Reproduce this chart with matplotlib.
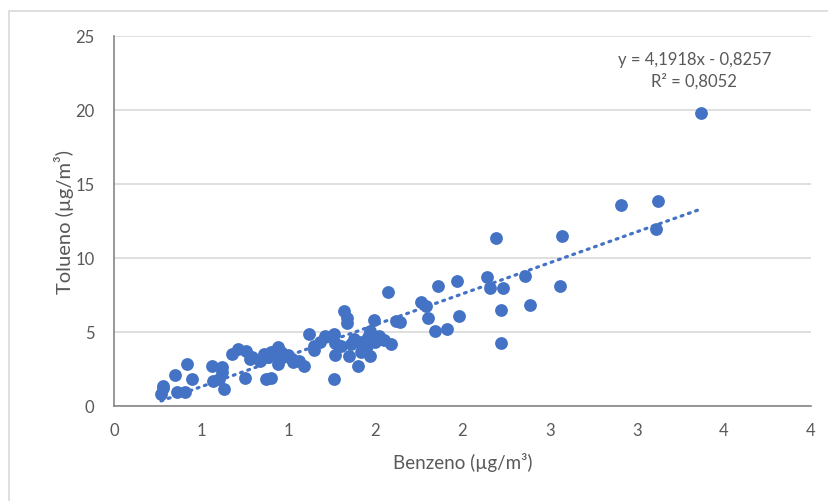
import numpy as np
import matplotlib
matplotlib.use('Agg')
from matplotlib import pyplot as plt
from matplotlib.patches import Rectangle

# Benzeno vs Tolueno (µg/m3)
benzeno = [0.27, 0.28, 0.28, 0.35, 0.36, 0.41, 0.42, 0.45,
           0.56, 0.62, 0.57, 0.60, 0.63, 0.62,
           0.68, 0.71, 0.76, 0.78, 0.75, 0.79,
           0.86, 0.90, 0.94, 0.94, 0.87, 0.90, 1.02, 1.03, 1.09, 0.84, 0.92,
           0.97, 1.06, 0.88, 0.96, 1.00,
           1.12, 1.15, 1.15, 1.21, 1.26, 1.27, 1.27, 1.35, 1.40, 1.26, 1.36,
           1.41, 1.32, 1.34, 1.34, 1.30, 1.18,
           1.47, 1.46, 1.45, 1.47, 1.55, 1.59, 1.49, 1.62, 1.57, 1.50, 1.43,
           1.64, 1.52, 1.42, 1.38,
           1.76, 1.79, 1.80, 1.98, 1.84, 1.91, 1.86, 1.97,
           2.14, 2.16, 2.23, 2.19, 2.36, 2.56, 2.57, 2.22, 2.39, 2.22,
           2.91, 3.12, 3.11, 3.37]
tolueno = [0.78, 1.16, 1.35, 2.08, 0.89, 0.94, 2.81, 1.79,
           2.69, 2.58, 1.68, 1.79, 1.12, 2.25,
           3.48, 3.82, 3.71, 3.15, 1.84, 3.26,
           3.48, 3.60, 3.98, 2.81, 1.79, 1.86, 3.15, 2.92, 2.69, 3.00, 3.40,
           3.26, 2.99, 3.30, 3.60, 3.40,
           4.84, 4.05, 3.76, 4.68, 4.84, 4.21, 3.42, 3.33, 2.69, 1.79, 4.16,
           4.28, 6.37, 5.90, 5.58, 4.00, 4.30,
           5.06, 4.61, 4.05, 3.37, 4.43, 4.16, 5.80, 5.70, 7.66, 4.30, 3.90,
           5.63, 4.70, 3.60, 4.50,
           7.02, 6.71, 5.95, 6.08, 5.02, 5.18, 8.11, 8.44,
           8.67, 7.93, 7.95, 11.31, 8.74, 8.06, 11.47, 6.46, 6.80, 4.24,
           13.56, 13.82, 11.94, 19.79]

slope, intercept = 4.1918, -0.8257
r2 = 0.8052

x_ticks = [0, 0.5, 1, 1.5, 2, 2.5, 3, 3.5, 4]
x_tick_labels = ['0', '1', '1', '2', '2', '3', '3', '4', '4']
y_ticks = [0, 5, 10, 15, 20, 25]

blue = '#4472C4'
grey_txt = '#595959'
plt.rcParams['font.family'] = ['Lato', 'DejaVu Sans']

fig = plt.figure(figsize=(8.29, 5.02), dpi=100)
ax = fig.add_axes([114 / 829, 1 - 406.5 / 502, (811 - 114) / 829, (406.5 - 37) / 502])

# borda da área do gráfico
fig.patches.append(Rectangle((9 / 829, -0.1), 1.2, 1 - 12 / 502 + 0.1,
                             transform=fig.transFigure, fill=False,
                             edgecolor='#D9D9D9', linewidth=1.2))

ax.scatter(benzeno, tolueno, s=85, color=blue, zorder=3, linewidths=0)

xs = np.array([min(benzeno), max(benzeno)])
ax.plot(xs, slope * xs + intercept, color=blue, linestyle=(0, (0.6, 1.8)),
        linewidth=2.3, dash_capstyle='round', zorder=2)

ax.set_xlim(0, 4)
ax.set_ylim(0, 25)
ax.set_xticks(x_ticks)
ax.set_xticklabels(x_tick_labels)
ax.set_yticks(y_ticks)
ax.tick_params(length=0, labelsize=12, colors=grey_txt, pad=12)
ax.tick_params(axis='y', pad=14)
ax.grid(axis='y', color='#D9D9D9', linewidth=1.2)
ax.set_axisbelow(True)
for s in ['top', 'right']:
    ax.spines[s].set_visible(False)
for s in ['left', 'bottom']:
    ax.spines[s].set_color('#868686')
    ax.spines[s].set_linewidth(1.2)

ax.set_xlabel('Benzeno (µg/m³)', fontsize=13.5, color=grey_txt, labelpad=10)
ax.set_ylabel('Tolueno (µg/m³)', fontsize=14.5, color=grey_txt, labelpad=1)

sign = '-' if intercept < 0 else '+'
eq = 'y = {:.4f}x {} {:.4f}'.format(slope, sign, abs(intercept)).replace('.', ',')
ax.text(3.33, 22.7, eq + '\nR² = ' + '{:.4f}'.format(r2).replace('.', ','),
        ha='center', va='center', fontsize=12, color=grey_txt,
        linespacing=1.4, multialignment='center')

plt.savefig('out.png', dpi=100)
